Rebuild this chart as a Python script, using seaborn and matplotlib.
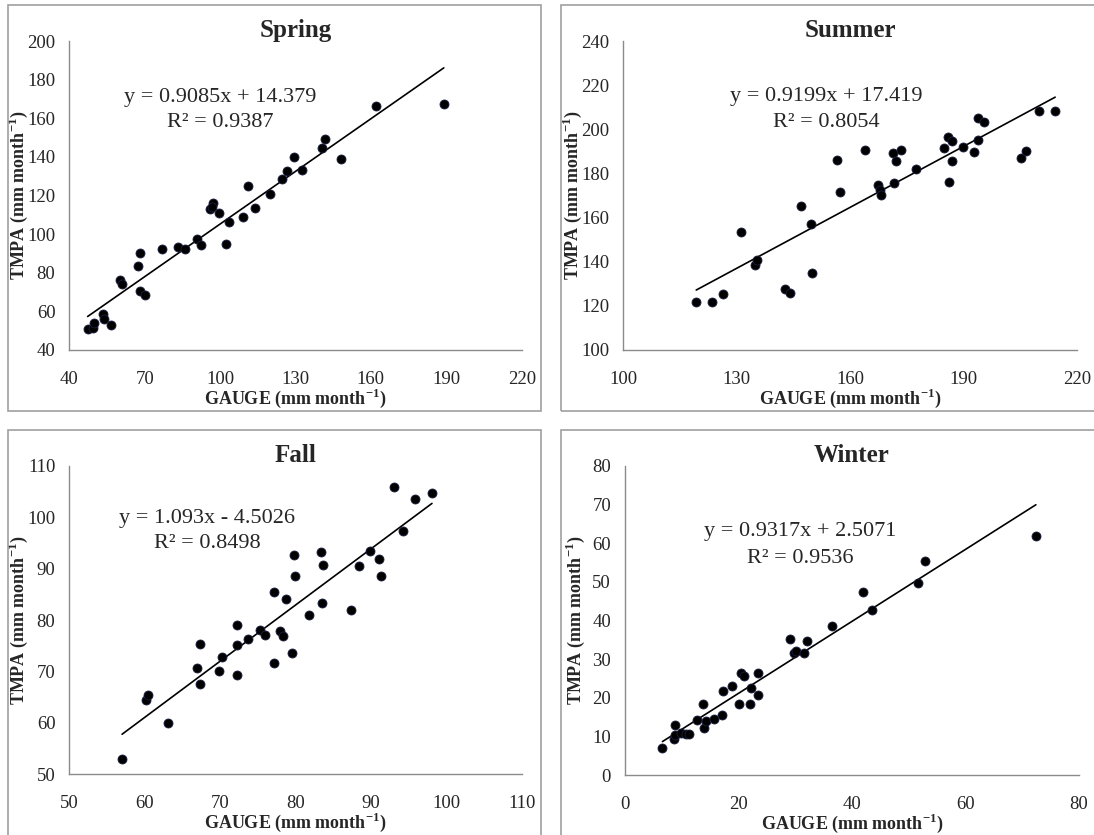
import numpy as np
import pandas as pd
import matplotlib
matplotlib.use("Agg")
import matplotlib.pyplot as plt
from matplotlib.patches import Rectangle
import seaborn as sns

# ---------------- data ----------------
seasons = ["Spring", "Summer", "Fall", "Winter"]

spring_gauge = [47.3, 49.3, 49.8, 53.5, 53.9, 56.6, 60.2, 61.0, 67.4, 68.1, 68.1, 70.2,
                77.0, 83.4, 86.2, 90.7, 92.4, 96.0, 97.0, 96.8, 99.7, 102.2, 103.7, 109.1,
                111.2, 113.9, 120.0, 124.7, 126.6, 129.3, 132.6, 140.5, 141.9, 148.2, 161.9, 189.0]
spring_tmpa = [50.9, 51.6, 54.0, 58.4, 55.9, 52.9, 76.5, 74.3, 83.4, 90.2, 70.3, 68.4,
               92.1, 93.4, 92.2, 97.6, 94.5, 112.9, 115.9, 114.1, 110.9, 94.7, 106.2, 108.8,
               124.8, 113.6, 121.0, 128.6, 132.6, 139.8, 133.4, 144.8, 149.0, 138.8, 166.5, 167.2]

summer_gauge = [119.3, 123.5, 126.3, 131.2, 134.8, 135.5, 142.8, 144.2, 146.9, 149.7, 150.0, 156.6,
                157.4, 164.1, 167.4, 168.0, 168.1, 171.5, 171.6, 172.3, 173.5, 177.6, 185.0, 185.9,
                186.3, 187.1, 187.1, 190.0, 192.7, 193.8, 193.8, 195.5, 205.2, 206.5, 210.0, 214.3]
summer_tmpa = [121.9, 121.9, 125.4, 153.6, 138.5, 140.8, 127.6, 125.7, 165.2, 157.1, 134.9, 186.0,
               171.7, 190.6, 174.7, 172.5, 170.2, 189.1, 175.8, 185.7, 190.6, 181.8, 191.6, 196.5,
               176.1, 194.6, 185.7, 191.9, 189.5, 195.1, 204.9, 203.2, 187.2, 190.1, 208.5, 208.1]

fall_gauge = [57.0, 60.2, 60.5, 63.1, 66.9, 67.3, 67.4, 69.8, 70.2, 72.3, 72.3, 72.3,
              73.7, 75.3, 75.9, 77.1, 77.1, 77.9, 78.4, 78.7, 79.5, 79.8, 79.9, 81.8,
              83.4, 83.6, 83.5, 87.3, 88.4, 89.9, 91.1, 91.4, 93.1, 94.3, 95.9, 98.1]
fall_tmpa = [53.0, 64.5, 65.5, 59.9, 70.7, 75.4, 67.6, 70.1, 72.9, 79.0, 75.1, 69.3,
             76.3, 78.0, 77.2, 85.5, 71.6, 77.9, 77.0, 84.1, 73.6, 92.7, 88.6, 81.0,
             93.3, 90.8, 83.4, 82.0, 90.6, 93.4, 91.9, 88.6, 106.0, 97.3, 103.6, 104.7]

winter_gauge = [6.6, 8.6, 8.8, 8.8, 9.8, 10.7, 11.2, 12.6, 13.7, 14.0, 14.3, 15.7,
                17.1, 17.2, 18.9, 20.1, 20.4, 20.9, 22.1, 22.2, 23.4, 23.5, 29.0, 29.8,
                30.1, 31.6, 32.0, 36.4, 42.0, 43.5, 51.7, 52.9, 72.4]
winter_tmpa = [7.0, 9.4, 13.0, 10.4, 11.0, 10.6, 10.6, 14.3, 18.4, 12.2, 14.1, 14.6,
               15.5, 21.8, 23.0, 18.3, 26.5, 25.6, 18.4, 22.6, 20.6, 26.3, 35.3, 31.5,
               32.2, 31.5, 34.6, 38.7, 47.3, 42.8, 49.8, 55.3, 62.0]

slopes = [0.9085, 0.9199, 1.093, 0.9317]
intercepts = [14.379, 17.419, -4.5026, 2.5071]
eq_labels = ["y = 0.9085x + 14.379", "y = 0.9199x + 17.419",
             "y = 1.093x - 4.5026", "y = 0.9317x + 2.5071"]
r2_labels = ["R\u00b2 = 0.9387", "R\u00b2 = 0.8054", "R\u00b2 = 0.8498", "R\u00b2 = 0.9536"]

x_ticks = [[40, 70, 100, 130, 160, 190, 220], [100, 130, 160, 190, 220],
           [50, 60, 70, 80, 90, 100, 110], [0, 20, 40, 60, 80]]
y_ticks = [[40, 60, 80, 100, 120, 140, 160, 180, 200],
           [100, 120, 140, 160, 180, 200, 220, 240],
           [50, 60, 70, 80, 90, 100, 110],
           [0, 10, 20, 30, 40, 50, 60, 70, 80]]

gauges = [spring_gauge, summer_gauge, fall_gauge, winter_gauge]
tmpas = [spring_tmpa, summer_tmpa, fall_tmpa, winter_tmpa]

# ---------------- style ----------------
sns.set_style("white")
plt.rcParams["font.family"] = ["Liberation Serif", "DejaVu Serif"]
plt.rcParams["mathtext.fontset"] = "custom"
plt.rcParams["mathtext.rm"] = "Liberation Serif"
plt.rcParams["mathtext.bf"] = "Liberation Serif:bold"

W, H = 1094, 835
fig = plt.figure(figsize=(W / 100, H / 100), dpi=100)

# axes rectangles in pixels: (left, top, right, bottom)
ax_px = [(69.3, 41, 521.7, 350), (623.3, 41, 1076.7, 350),
         (69.3, 466, 521.7, 774.3), (625, 466, 1079, 775)]
box_px = [(8, 5, 541, 411), (561, 5, 1110, 411), (8, 430, 541, 850), (561, 430, 1110, 850)]
eq_pos = [(0.333, 0.816, 0.735), (0.447, 0.82, 0.736), (0.304, 0.83, 0.747), (0.385, 0.787, 0.70)]
ylabel_x = [18, 572, 18, 575]

gray = "#8a8a8a"
for i in range(4):
    bl, bt, br, bb = box_px[i]
    fig.patches.append(Rectangle((bl / W, 1 - bb / H), (br - bl) / W, (bb - bt) / H,
                                 transform=fig.transFigure, fill=False,
                                 edgecolor="#a0a0a0", linewidth=1.2, zorder=0))

    l, t, r, b = ax_px[i]
    ax = fig.add_axes([l / W, 1 - b / H, (r - l) / W, (b - t) / H])
    df = pd.DataFrame({"GAUGE": gauges[i], "TMPA": tmpas[i]})

    xs = np.array([min(gauges[i]), max(gauges[i])])
    line_df = pd.DataFrame({"x": xs, "y": slopes[i] * xs + intercepts[i]})
    sns.lineplot(data=line_df, x="x", y="y", ax=ax, color="black", linewidth=1.2, zorder=2)
    sns.scatterplot(data=df, x="GAUGE", y="TMPA", ax=ax, color="black", s=42,
                    edgecolor="#1a2040", linewidth=0.6, zorder=3)

    xt, yt = x_ticks[i], y_ticks[i]
    ax.set_xlim(xt[0], xt[-1])
    ax.set_ylim(yt[0], yt[-1])
    ax.set_xticks(xt)
    ax.set_yticks(yt)
    ax.tick_params(axis="x", direction="out", length=5, width=1, color=gray,
                   labelsize=13.5, pad=10)
    ax.tick_params(axis="y", direction="out", length=5, width=1, color=gray,
                   labelsize=13.5, pad=5)
    for side in ["top", "right"]:
        ax.spines[side].set_visible(False)
    for side in ["left", "bottom"]:
        ax.spines[side].set_color(gray)
        ax.spines[side].set_linewidth(1)

    ax.set_xlabel(r"GAUGE (mm month$^{\mathbf{-1}}$)", fontsize=13, fontweight="bold",
                  va="center")
    ax.set_ylabel(r"TMPA (mm month$^{\mathbf{-1}}$)", fontsize=13, fontweight="bold",
                  va="center")
    ax.xaxis.set_label_coords(0.5, -48 / (b - t))
    ax.yaxis.set_label_coords((ylabel_x[i] - l) / (r - l), 0.5)

    ax.set_title(seasons[i], fontsize=18, fontweight="bold", pad=3)

    ex, ey1, ey2 = eq_pos[i]
    ax.text(ex, ey1, eq_labels[i], transform=ax.transAxes, ha="center", va="center",
            fontsize=16)
    ax.text(ex, ey2, r2_labels[i], transform=ax.transAxes, ha="center", va="center",
            fontsize=16)

fig.savefig("out.png", dpi=100)
